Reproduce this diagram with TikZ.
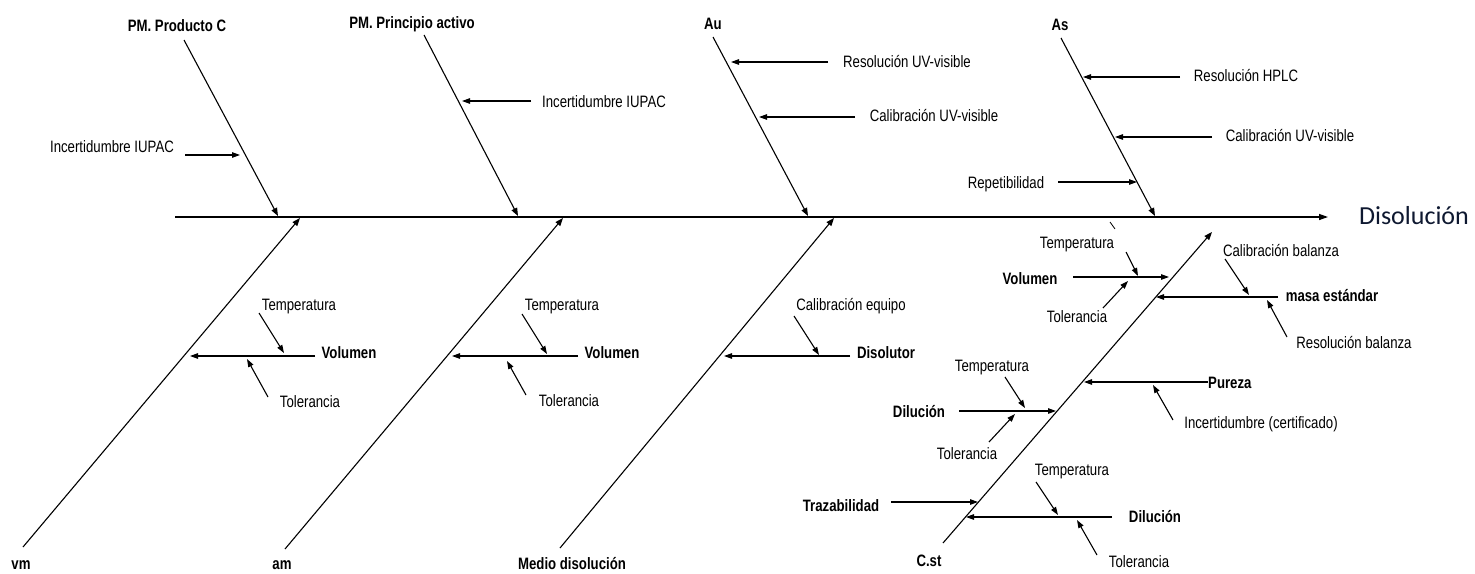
\documentclass[tikz,border=0pt]{standalone}
\usepackage{fontspec}
\setmainfont{Liberation Sans}[FakeStretch=0.8]
\newfontfamily\calib{Carlito}
\usetikzlibrary{arrows.meta}
\definecolor{navy}{HTML}{0E1830}
\tikzset{
  lbl/.style={inner sep=0pt, anchor=base, yshift=-6pt, font=\fontsize{16.5}{19}\selectfont},
  blbl/.style={lbl, font=\fontsize{16.5}{19}\selectfont\bfseries},
  bone/.style={line width=1.1pt, -{Triangle[length=8pt,width=6pt]}},
  sub/.style={line width=1.1pt, -{Triangle[length=8pt,width=5.5pt]}},
}
\begin{document}
\begin{tikzpicture}[x=1pt,y=-1pt]
\useasboundingbox (0,0) rectangle (1475,573);

% ---------- spine ----------
\coordinate (s0) at (175,217);
\coordinate (s1) at (1328,217);
\draw[line width=1.3pt, -{Triangle[length=9pt,width=6pt]}] (s0) -- (s1);
\node[font=\calib\fontsize{26}{30}\selectfont, text=navy, inner sep=0pt, anchor=base, yshift=-8.5pt] (eff) at (1414,216) {Disolución};

% ---------- top bones ----------
\node[blbl] (pmc) at (177,25) {PM. Producto C};
\coordinate (pmc0) at (184,40); \coordinate (pmc1) at (278,216);
\draw[bone] (pmc0) -- (pmc1);
\node[lbl] (iu1) at (112,146) {Incertidumbre IUPAC};
\coordinate (iu1a) at (185,155); \coordinate (iu1b) at (240,155);
\draw[sub] (iu1a) -- (iu1b);

\node[blbl] (pmp) at (412,22) {PM. Principio activo};
\coordinate (pmp0) at (424,35); \coordinate (pmp1) at (518,216);
\draw[bone] (pmp0) -- (pmp1);
\node[lbl] (iu2) at (604,101) {Incertidumbre IUPAC};
\coordinate (iu2a) at (531,101); \coordinate (iu2b) at (462,101);
\draw[sub] (iu2a) -- (iu2b);

\node[blbl] (au) at (713,23) {Au};
\coordinate (au0) at (713,37); \coordinate (au1) at (808,216);
\draw[bone] (au0) -- (au1);
\node[lbl] (ruv) at (907,61) {Resolución UV-visible};
\coordinate (ruva) at (828,62); \coordinate (ruvb) at (731,62);
\draw[sub] (ruva) -- (ruvb);
\node[lbl] (cuv) at (934,115) {Calibración UV-visible};
\coordinate (cuva) at (855,117); \coordinate (cuvb) at (759,117);
\draw[sub] (cuva) -- (cuvb);

\node[blbl] (as) at (1060,24) {As};
\coordinate (as0) at (1061,38); \coordinate (as1) at (1155,216);
\draw[bone] (as0) -- (as1);
\node[lbl] (rh) at (1246,75) {Resolución HPLC};
\coordinate (rha) at (1180,77); \coordinate (rhb) at (1083,77);
\draw[sub] (rha) -- (rhb);
\node[lbl] (cuv2) at (1290,135) {Calibración UV-visible};
\coordinate (cuv2a) at (1212,137); \coordinate (cuv2b) at (1115,137);
\draw[sub] (cuv2a) -- (cuv2b);
\node[lbl] (rep) at (1006,182) {Repetibilidad};
\coordinate (repa) at (1058,182); \coordinate (repb) at (1137,182);
\draw[sub] (repa) -- (repb);

% ---------- bottom bones ----------
\node[blbl] (vm) at (21,563) {vm};
\coordinate (vm0) at (23,547); \coordinate (vm1) at (300,218);
\draw[bone] (vm0) -- (vm1);
\node[lbl] (t1) at (299,304) {Temperatura};
\coordinate (t1a) at (259,313); \coordinate (t1b) at (284,353);
\draw[sub] (t1a) -- (t1b);
\node[blbl] (v1) at (349,352) {Volumen};
\coordinate (v1a) at (315,356); \coordinate (v1b) at (190,356);
\draw[sub] (v1a) -- (v1b);
\node[lbl] (to1) at (310,401) {Tolerancia};
\coordinate (to1a) at (268,397); \coordinate (to1b) at (247,359);
\draw[sub] (to1a) -- (to1b);

\node[blbl] (am) at (282,563) {am};
\coordinate (am0) at (285,549); \coordinate (am1) at (563,218);
\draw[bone] (am0) -- (am1);
\node[lbl] (t2) at (562,304) {Temperatura};
\coordinate (t2a) at (522,314); \coordinate (t2b) at (547,354);
\draw[sub] (t2a) -- (t2b);
\node[blbl] (v2) at (612,352) {Volumen};
\coordinate (v2a) at (578,356); \coordinate (v2b) at (452,356);
\draw[sub] (v2a) -- (v2b);
\node[lbl] (to2) at (569,400) {Tolerancia};
\coordinate (to2a) at (526,395); \coordinate (to2b) at (507,361);
\draw[sub] (to2a) -- (to2b);

\node[blbl] (md) at (572,563) {Medio disolución};
\coordinate (md0) at (560,548); \coordinate (md1) at (834,218);
\draw[bone] (md0) -- (md1);
\node[lbl] (ce) at (851,304) {Calibración equipo};
\coordinate (cea) at (794,316); \coordinate (ceb) at (819,355);
\draw[sub] (cea) -- (ceb);
\node[blbl] (dis) at (886,352) {Disolutor};
\coordinate (disa) at (850,356); \coordinate (disb) at (724,356);
\draw[sub] (disa) -- (disb);

% ---------- C.st bone ----------
\node[blbl] (cst) at (929,560) {C.st};
\coordinate (cst0) at (943,543); \coordinate (cst1) at (1212,232);
\draw[bone] (cst0) -- (cst1);
\coordinate (tk0) at (1110,222); \coordinate (tk1) at (1115,229);
\draw[line width=0.8pt] (tk0) -- (tk1);

\node[lbl] (t3) at (1077,242) {Temperatura};
\coordinate (t3a) at (1126,252); \coordinate (t3b) at (1138,276);
\draw[sub] (t3a) -- (t3b);
\node[blbl] (v3) at (1030,278) {Volumen};
\coordinate (v3a) at (1073,277); \coordinate (v3b) at (1169,277);
\draw[sub] (v3a) -- (v3b);
\node[lbl] (to3) at (1077,316) {Tolerancia};
\coordinate (to3a) at (1103,308); \coordinate (to3b) at (1128,281);
\draw[sub] (to3a) -- (to3b);

\node[lbl] (cb) at (1281,250) {Calibración balanza};
\coordinate (cba) at (1225,259); \coordinate (cbb) at (1249,295);
\draw[sub] (cba) -- (cbb);
\node[blbl] (me) at (1332,295) {masa estándar};
\coordinate (mea) at (1278,297); \coordinate (meb) at (1156,297);
\draw[sub] (mea) -- (meb);
\node[lbl] (rb) at (1354,342) {Resolución balanza};
\coordinate (rba) at (1287,337); \coordinate (rbb) at (1267,300);
\draw[sub] (rba) -- (rbb);

\node[blbl, anchor=base west] (pu) at (1208,382) {Pureza};
\coordinate (pua) at (1208,382); \coordinate (pub) at (1084,382);
\draw[sub] (pua) -- (pub);
\node[lbl] (ic) at (1261,422) {Incertidumbre (certificado)};
\coordinate (ica) at (1173,420); \coordinate (icb) at (1153,385);
\draw[sub] (ica) -- (icb);

\node[lbl] (t4) at (992,365) {Temperatura};
\coordinate (t4a) at (1005,377); \coordinate (t4b) at (1025,408);
\draw[sub] (t4a) -- (t4b);
\node[blbl] (d1) at (919,411) {Dilución};
\coordinate (d1a) at (959,411); \coordinate (d1b) at (1056,411);
\draw[sub] (d1a) -- (d1b);
\node[lbl] (to4) at (967,453) {Tolerancia};
\coordinate (to4a) at (989,442); \coordinate (to4b) at (1015,414);
\draw[sub] (to4a) -- (to4b);

\node[blbl] (tz) at (841,505) {Trazabilidad};
\coordinate (tza) at (891,502); \coordinate (tzb) at (978,502);
\draw[sub] (tza) -- (tzb);

\node[lbl] (t5) at (1072,469) {Temperatura};
\coordinate (t5a) at (1036,482); \coordinate (t5b) at (1058,515);
\draw[sub] (t5a) -- (t5b);
\node[blbl] (d2) at (1155,516) {Dilución};
\coordinate (d2a) at (1112,517); \coordinate (d2b) at (966,517);
\draw[sub] (d2a) -- (d2b);
\node[lbl] (to5) at (1139,561) {Tolerancia};
\coordinate (to5a) at (1097,555); \coordinate (to5b) at (1077,520);
\draw[sub] (to5a) -- (to5b);
\end{tikzpicture}
\end{document}
